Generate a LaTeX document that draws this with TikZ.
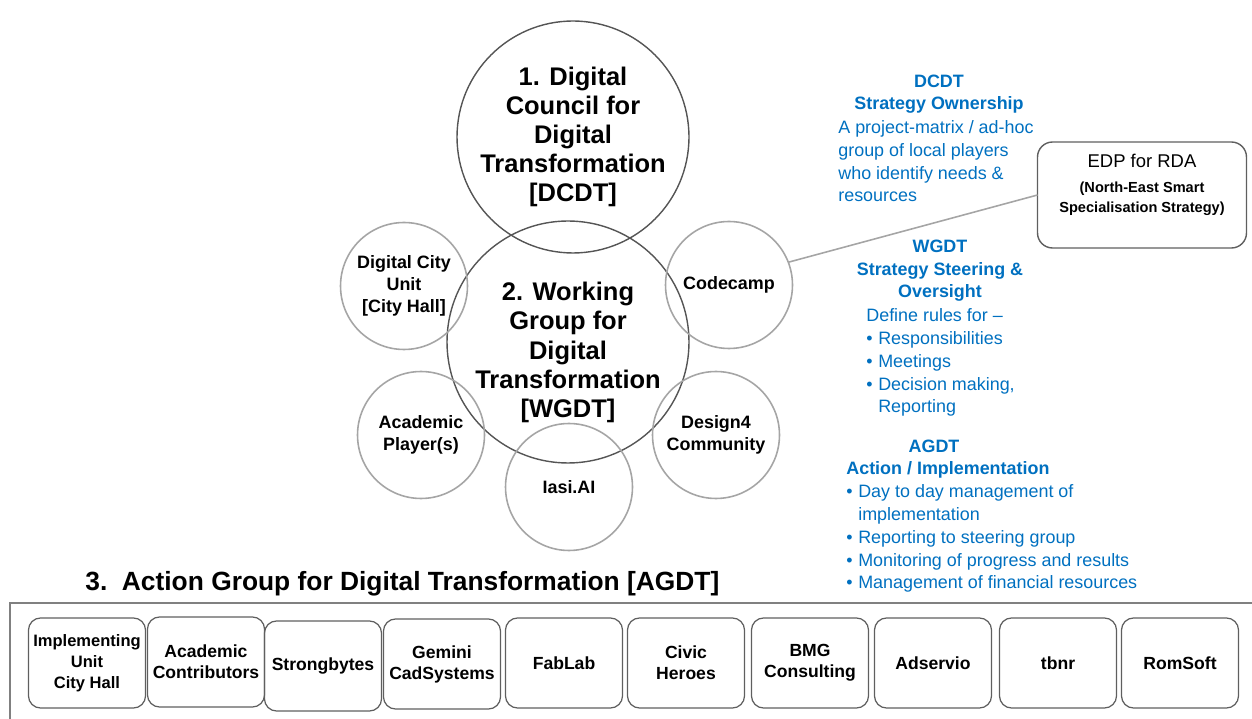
\documentclass[tikz,border=0pt]{standalone}
\usepackage{fontspec}
\setmainfont{Liberation Sans}

\definecolor{strategyblue}{RGB}{0,112,192}
\definecolor{ringdark}{RGB}{85,85,85}
\definecolor{ringlight}{RGB}{165,165,165}
\definecolor{boxline}{RGB}{95,95,95}
\definecolor{frameline}{RGB}{128,128,128}

% bullet lines in the blue side notes
\newcommand{\dotitem}{\makebox[6.8pt][l]{\textbullet}}
\newcommand{\dotcont}{\hspace*{6.8pt}}

\begin{document}
\begin{tikzpicture}[x=0.02cm, y=-0.02cm,
    big ring/.style={circle, draw=ringdark, line width=0.8pt, inner sep=0pt, outer sep=0pt},
    big title/.style={align=center, font=\fontsize{14.5}{16.6}\selectfont\bfseries},
    member ring/.style={circle, draw=ringlight, line width=0.9pt, minimum size=2.54cm, inner sep=1pt, outer sep=0pt, align=center, font=\fontsize{10.2}{12.5}\selectfont\bfseries},
    member box/.style={draw=boxline, line width=0.7pt, rounded corners=0.24cm, minimum width=2.34cm, minimum height=1.8cm, inner sep=1pt, align=center, font=\fontsize{10}{12}\selectfont\bfseries},
    blue head/.style={anchor=base, align=center, inner sep=0pt, text=strategyblue, font=\fontsize{10.2}{13}\selectfont\bfseries},
    blue text/.style={anchor=base west, align=left, inner sep=0pt, text=strategyblue, font=\fontsize{10.2}{13}\selectfont}]

    \useasboundingbox (0,0) rectangle (1252,719);

    % council and working group
    \node[big ring, minimum size=4.64cm, label={[big title]center:{1. Digital\\Council for\\Digital\\Transformation\\{[DCDT]}}}] (dcdt) at (573,137) {};
    \node[big ring, minimum size=4.84cm, label={[big title, yshift=-6pt]center:{2. Working\\Group for\\Digital\\Transformation\\{[WGDT]}}}] (wgdt) at (568,342) {};

    % members around the working group
    \node[member ring] (cityunit) at (404,286) {Digital City\\Unit\\{[City Hall]}};
    \node[member ring] (codecamp) at (729,285) {Codecamp};
    \node[member ring] (academic) at (421,435) {Academic\\Player(s)};
    \node[member ring] (design4) at (716,435) {Design4\\Community};
    \node[member ring] (iasiai) at (569,487) {Iasi.AI};

    % regional strategy
    \node[draw=boxline, line width=0.8pt, rounded corners=0.3cm, minimum width=4.18cm, minimum height=2.12cm, outer sep=0pt, align=center, font=\fontsize{8.3}{11.2}\selectfont\bfseries] (edp) at (1142,195) {{\fontsize{10.5}{12}\mdseries EDP for RDA}\\[3pt](North-East Smart\\Specialisation Strategy)\\[2pt]};
    \draw[ringlight, line width=0.9pt] (codecamp.21) -- (edp.west);

    % side notes (anchored on their last line)
    \node[blue head] (dcdt-head) at (939,110) {DCDT\\Strategy Ownership};
    \node[blue text] (dcdt-text) at (838,202) {A project-matrix / ad-hoc\\group of local players\\who identify needs \&\\resources};

    \node[blue head] (wgdt-head) at (940,298) {WGDT\\Strategy Steering \&\\Oversight};
    \node[blue text] (wgdt-text) at (866,413) {Define rules for –\\\dotitem Responsibilities\\\dotitem Meetings\\\dotitem Decision making,\\\dotcont Reporting};

    \node[blue head] (agdt-head) at (934,453) {AGDT};
    \node[blue text] (agdt-text) at (846,589) {\textbf{Action / Implementation}\\\dotitem Day to day management of\\\dotcont implementation\\\dotitem Reporting to steering group\\\dotitem Monitoring of progress and results\\\dotitem Management of financial resources};

    % action group
    \node[anchor=base west, inner sep=0pt, font=\fontsize{15}{18}\selectfont\bfseries] (agdt-title) at (85,591) {3.~~Action Group for Digital Transformation [AGDT]};
    \draw[frameline, line width=1.2pt] (10,719) -- (10,603) -- (1252,603);

    \node[member box, font=\fontsize{9.4}{12}\selectfont\bfseries] (implementing) at (87,663) {Implementing\\Unit\\City Hall};
    \node[member box] (contributors) at (206,662) {Academic\\Contributors};
    \node[member box] (strongbytes) at (323,666) {Strongbytes};
    \node[member box] (gemini) at (442,664) {Gemini\\CadSystems};
    \node[member box] (fablab) at (564,663) {FabLab};
    \node[member box] (civic) at (686,663) {Civic\\Heroes};
    \node[member box] (bmg) at (810,663) {BMG\\Consulting};
    \node[member box] (adservio) at (933,663) {Adservio};
    \node[member box] (tbnr) at (1058,663) {tbnr};
    \node[member box] (romsoft) at (1180,663) {RomSoft};
\end{tikzpicture}
\end{document}
